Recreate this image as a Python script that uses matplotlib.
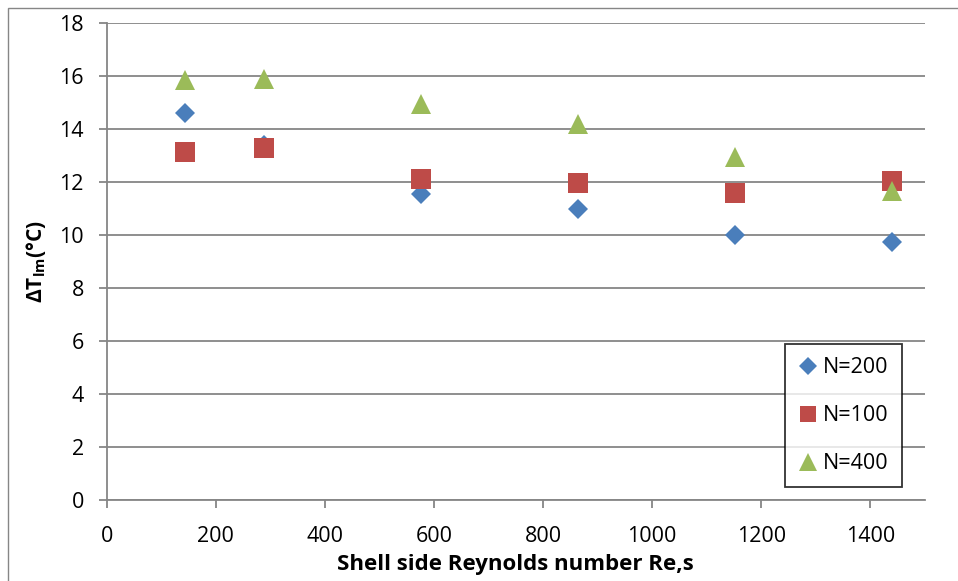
import matplotlib
matplotlib.use("Agg")
import matplotlib.pyplot as plt
from matplotlib.patches import Rectangle

plt.rcParams['font.family'] = ['Open Sans', 'DejaVu Sans']
plt.rcParams['mathtext.fontset'] = 'custom'
plt.rcParams['mathtext.rm'] = 'Open Sans:bold'
plt.rcParams['mathtext.default'] = 'rm'

# Shell side Reynolds numbers
reynolds = [144, 288, 576, 864, 1152, 1440]

# Log-mean temperature difference (°C) for each baffle count
dt_n200 = [14.6, 13.4, 11.55, 11.0, 10.0, 9.75]
dt_n100 = [13.13, 13.28, 12.12, 11.97, 11.58, 12.05]
dt_n400 = [15.86, 15.9, 14.95, 14.2, 12.95, 11.68]

series_labels = ['N=200', 'N=100', 'N=400']
x_ticks = [0, 200, 400, 600, 800, 1000, 1200, 1400]
y_ticks = [0, 2, 4, 6, 8, 10, 12, 14, 16, 18]

W, H = 958, 581
fig = plt.figure(figsize=(W / 100, H / 100), dpi=100)
ax = fig.add_axes([106.7 / W, 1 - 500 / H, (925 - 106.7) / W, (500 - 23.3) / H])

grid_col = '#868686'
ax.plot(reynolds, dt_n200, linestyle='none', marker='D', ms=10.5,
        color='#4A7EBB', mew=0, label=series_labels[0], zorder=3)
ax.plot(reynolds, dt_n100, linestyle='none', marker='s', ms=14,
        color='#BE4B48', mew=0, label=series_labels[1], zorder=4)
ax.plot(reynolds, dt_n400, linestyle='none', marker='^', ms=14.5,
        color='#9BBB59', mew=0, label=series_labels[2], zorder=5)

ax.set_xlim(0, 1500)
ax.set_ylim(0, 18)
ax.set_xticks(x_ticks)
ax.set_yticks(y_ticks)
ax.yaxis.grid(True, color=grid_col, linewidth=1.3)
ax.set_axisbelow(True)

for side in ('top', 'right'):
    ax.spines[side].set_visible(False)
for side in ('left', 'bottom'):
    ax.spines[side].set_color(grid_col)
    ax.spines[side].set_linewidth(1.3)

ax.tick_params(axis='both', colors=grid_col, labelcolor='black',
               labelsize=15.5, length=5.5, width=1.3)
ax.tick_params(axis='y', pad=11)
ax.tick_params(axis='x', pad=13)

ax.set_xlabel('Shell side Reynolds number Re,s', fontsize=16,
              fontweight='bold', labelpad=5)
ax.set_ylabel('ΔT$_{lm}$(°C)', fontsize=15, fontweight='bold', labelpad=8)

leg = ax.legend(loc='lower left', bbox_to_anchor=(0.829, 0.027, 0.143, 0.302),
                mode='expand', fontsize=15.5, frameon=True, fancybox=False,
                edgecolor='black', borderpad=0.6, labelspacing=1.25,
                handlelength=0.9, handletextpad=0.25, markerscale=0.85,
                borderaxespad=0)
leg.get_frame().set_linewidth(1.3)

# Outer chart frame
fig.add_artist(Rectangle((7.5 / W, -0.1), 1.2, 1.1 - 7.5 / H,
                         transform=fig.transFigure, fill=False,
                         edgecolor=grid_col, linewidth=1.0))

fig.savefig('out.png', dpi=100)
